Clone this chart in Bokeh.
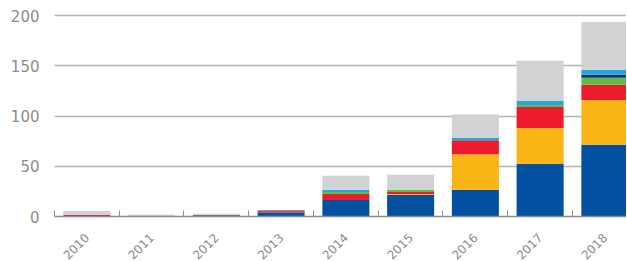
import numpy as np
from math import pi
from bokeh.plotting import figure
from bokeh.models import Range1d, FixedTicker, ColumnDataSource
from bokeh.embed import file_html
from bokeh.resources import INLINE

years = ["2010", "2011", "2012", "2013", "2014", "2015", "2016", "2017", "2018"]
blue = [0, 0, 1.2, 4, 16.5, 21.5, 26.5, 52.5, 71.5]
yellow = [0, 0, 0, 0, 0, 1, 35.5, 35.5, 44.5]
red = [1.5, 0, 0.5, 1.3, 6, 2, 14, 21, 15]
green = [0, 0, 0, 0, 2, 2, 0, 2, 7]
navy = [0, 0, 0, 0.6, 0, 0, 0, 0, 3]
cyan = [0, 0, 0, 0, 2, 0, 2, 4, 5]
grey = [4, 1.7, 1, 0, 14, 15, 23.5, 40, 47.5]
y_ticks = [0, 50, 100, 150, 200]

series = ["blue", "yellow", "red", "green", "navy", "cyan", "grey"]
colors = ["#0450a0", "#f9b516", "#ec1c2e", "#62bb46", "#1c3664", "#1ea9e1", "#d1d2d4"]

x = np.arange(len(years)) + 0.5
source = ColumnDataSource(dict(x=x, blue=blue, yellow=yellow, red=red, green=green,
                               navy=navy, cyan=cyan, grey=grey))

p = figure(frame_width=572, frame_height=207, output_backend="svg", toolbar_location=None,
           x_range=Range1d(0, 8.834), y_range=Range1d(0, 206),
           min_border_left=54, min_border_right=0, min_border_top=9, min_border_bottom=0)
p.outline_line_color = None

p.vbar_stack(series, x="x", width=0.726, color=colors, source=source, line_color=None)

# grid
p.xgrid.grid_line_color = None
p.ygrid.ticker = FixedTicker(ticks=y_ticks)
p.ygrid.grid_line_color = "#b4b4b4"
p.ygrid.grid_line_width = 1.5

# y axis
p.yaxis.ticker = FixedTicker(ticks=y_ticks)
p.yaxis.axis_line_color = None
p.yaxis.major_tick_line_color = None
p.yaxis.minor_tick_line_color = None
p.yaxis.major_label_text_font = "DejaVu Sans"
p.yaxis.major_label_text_font_size = "15px"
p.yaxis.major_label_text_color = "#8c8c8c"
p.yaxis.major_label_standoff = 9

# x axis
p.xaxis.ticker = FixedTicker(ticks=list(x), minor_ticks=list(np.arange(len(years) + 1)))
p.xaxis.major_label_overrides = {float(xi): y for xi, y in zip(x, years)}
p.xaxis.major_tick_in = 0
p.xaxis.major_tick_out = 0
p.xaxis.minor_tick_in = 6
p.xaxis.minor_tick_out = 0
p.xaxis.minor_tick_line_color = "#8c8c8c"
p.xaxis.minor_tick_line_width = 1
p.xaxis.axis_line_color = "#8c8c8c"
p.xaxis.axis_line_width = 1.5
p.xaxis.major_label_orientation = pi / 4
p.xaxis.major_label_text_font = "DejaVu Sans"
p.xaxis.major_label_text_font_size = "12px"
p.xaxis.major_label_text_color = "#8c8c8c"
p.xaxis.major_label_standoff = 19

open("out.html", "w").write(file_html(p, INLINE))
